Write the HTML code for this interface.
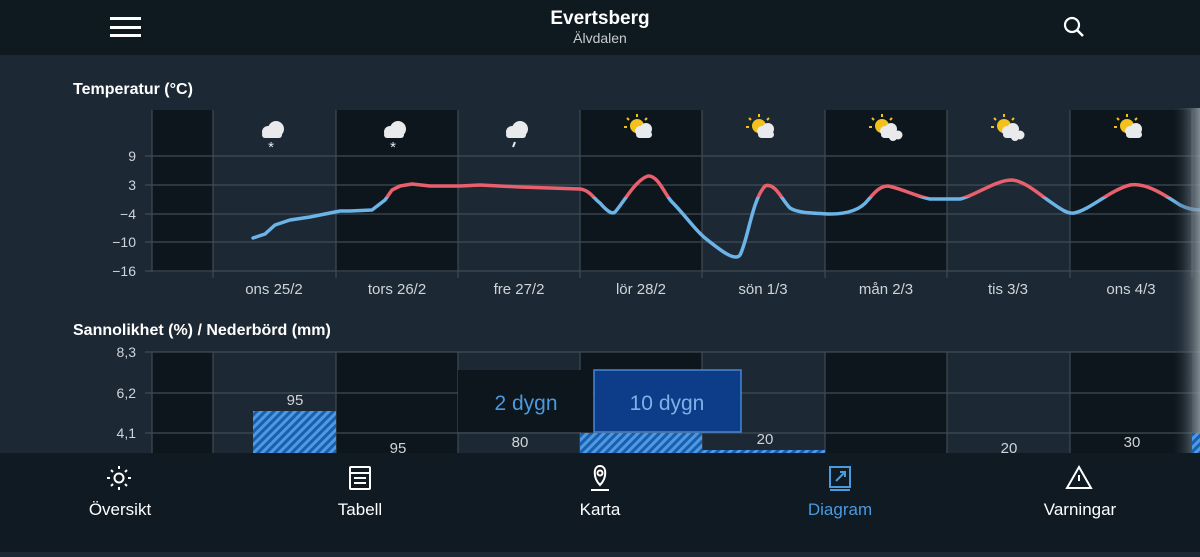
<!DOCTYPE html>
<html><head><meta charset="utf-8"><style>
body{margin:0;width:1200px;height:552px;overflow:hidden;background:#1c2833;font-family:"Liberation Sans",sans-serif;}
</style></head><body>
<svg width="1200" height="552" xmlns="http://www.w3.org/2000/svg" font-family="Liberation Sans, sans-serif">
<defs>
<clipPath id="top"><rect x="0" y="0" width="1200" height="197"/></clipPath>
<clipPath id="bot"><rect x="0" y="197" width="1200" height="200"/></clipPath>
<pattern id="hatch" width="6" height="6" patternUnits="userSpaceOnUse" patternTransform="rotate(45)">
<rect width="6" height="6" fill="#1e5ea8"/><rect width="3" height="6" fill="#4a9ae8"/></pattern>
<linearGradient id="fade" x1="0" x2="1"><stop offset="0" stop-color="#1c2833" stop-opacity="0"/><stop offset="1" stop-color="#9aa3aa" stop-opacity="0.8"/></linearGradient>
</defs>
<rect x="0" y="0" width="1200" height="55" fill="#0f1920"/>
<rect x="110" y="17" width="31" height="3" fill="#fff"/><rect x="110" y="26" width="31" height="3" fill="#fff"/><rect x="110" y="34" width="31" height="3" fill="#fff"/>
<text x="600" y="24" text-anchor="middle" fill="#fff" font-size="19" font-weight="bold">Evertsberg</text>
<text x="600" y="43" text-anchor="middle" fill="#c8ccd0" font-size="14">Älvdalen</text>
<circle cx="1072" cy="25" r="7" fill="none" stroke="#fff" stroke-width="2.2"/><line x1="1077" y1="30" x2="1083" y2="36" stroke="#fff" stroke-width="2.5"/>
<text x="73" y="94" fill="#fff" font-size="16" font-weight="bold">Temperatur (°C)</text>
<g fill="#0d161d">
<rect x="152" y="110" width="61" height="162"/><rect x="336" y="110" width="122" height="162"/><rect x="580" y="110" width="122" height="162"/><rect x="825" y="110" width="122" height="162"/><rect x="1070" y="110" width="122" height="162"/>
<rect x="152" y="352" width="61" height="101"/><rect x="336" y="352" width="122" height="101"/><rect x="580" y="352" width="122" height="101"/><rect x="825" y="352" width="122" height="101"/><rect x="1070" y="352" width="122" height="101"/>
</g>
<g stroke="#3f4b55" stroke-width="1.2">
<line x1="145" y1="156" x2="1200" y2="156"/><line x1="145" y1="185" x2="1200" y2="185"/><line x1="145" y1="214" x2="1200" y2="214"/><line x1="145" y1="242" x2="1200" y2="242"/><line x1="145" y1="271" x2="1200" y2="271"/>
<line x1="145" y1="352" x2="1200" y2="352"/><line x1="145" y1="393" x2="1200" y2="393"/><line x1="145" y1="433" x2="1200" y2="433"/>
<line x1="152" y1="110" x2="152" y2="272"/><line x1="213" y1="110" x2="213" y2="278"/><line x1="336" y1="110" x2="336" y2="278"/><line x1="458" y1="110" x2="458" y2="278"/><line x1="580" y1="110" x2="580" y2="278"/><line x1="702" y1="110" x2="702" y2="278"/><line x1="825" y1="110" x2="825" y2="278"/><line x1="947" y1="110" x2="947" y2="278"/><line x1="1070" y1="110" x2="1070" y2="278"/><line x1="1192" y1="110" x2="1192" y2="278"/>
<line x1="152" y1="352" x2="152" y2="453"/><line x1="213" y1="352" x2="213" y2="453"/><line x1="336" y1="352" x2="336" y2="453"/><line x1="458" y1="352" x2="458" y2="453"/><line x1="580" y1="352" x2="580" y2="453"/><line x1="702" y1="352" x2="702" y2="453"/><line x1="825" y1="352" x2="825" y2="453"/><line x1="947" y1="352" x2="947" y2="453"/><line x1="1070" y1="352" x2="1070" y2="453"/>
</g>
<g fill="#d0d4d8" font-size="14" text-anchor="end">
<text x="136" y="161">9</text><text x="136" y="190">3</text><text x="136" y="219">−4</text><text x="136" y="247">−10</text><text x="136" y="276">−16</text>
<text x="136" y="357">8,3</text><text x="136" y="398">6,2</text><text x="136" y="438">4,1</text>
</g>
<g fill="#d0d4d8" font-size="15" text-anchor="middle">
<text x="274" y="294">ons 25/2</text><text x="397" y="294">tors 26/2</text><text x="519" y="294">fre 27/2</text><text x="641" y="294">lör 28/2</text><text x="763" y="294">sön 1/3</text><text x="886" y="294">mån 2/3</text><text x="1008" y="294">tis 3/3</text><text x="1131" y="294">ons 4/3</text>
</g>
<g fill="#e8eaec">
<g transform="translate(273,130)"><circle cx="-5" cy="2" r="6"/><circle cx="3" cy="-1" r="8"/><rect x="-11" y="2" width="20" height="6" rx="3"/><text x="-2" y="22" font-size="15" text-anchor="middle">*</text></g>
<g transform="translate(395,130)"><circle cx="-5" cy="2" r="6"/><circle cx="3" cy="-1" r="8"/><rect x="-11" y="2" width="20" height="6" rx="3"/><text x="-2" y="22" font-size="15" text-anchor="middle">*</text></g>
<g transform="translate(517,130)"><circle cx="-5" cy="2" r="6"/><circle cx="3" cy="-1" r="8"/><rect x="-11" y="2" width="20" height="6" rx="3"/><line x1="-2" y1="12" x2="-4" y2="17" stroke="#e8eaec" stroke-width="2"/></g>
</g>
<g id="sun">
<g transform="translate(640,128)"><circle cx="-3" cy="-2" r="7" fill="#f2c11a"/><g stroke="#f2c11a" stroke-width="2"><line x1="-3" y1="-14" x2="-3" y2="-11"/><line x1="-13" y1="-10" x2="-11" y2="-8"/><line x1="7" y1="-10" x2="5" y2="-8"/><line x1="-16" y1="-1" x2="-13" y2="-1"/></g><g fill="#e8eaec"><circle cx="0" cy="3" r="5"/><circle cx="6" cy="1" r="6"/><rect x="-4" y="3" width="16" height="7" rx="3.5"/></g></g>
</g>
<use href="#sun" x="122"/><use href="#sun" x="245"/><use href="#sun" x="367"/><use href="#sun" x="490"/>
<g fill="#e8eaec"><circle cx="893" cy="137" r="4"/><circle cx="898" cy="135" r="4.5"/><circle cx="1015" cy="137" r="4"/><circle cx="1020" cy="135" r="4.5"/></g>
<path id="t" fill="none" stroke-width="3.5" stroke-linecap="round" stroke-linejoin="round" d="M253,238 L265,234 L275,225 L290,220 L310,217 L340,211 L350,211 L372,210 L385,200 L392,190 L400,186 L412,184 L430,186 L460,186 L480,185 L520,187 L580,189 C590,190 595,200 600,203 C606,210 612,215 615,212 C622,205 635,180 648,176 C658,175 665,195 672,202 C685,215 695,230 705,238 C720,250 735,262 740,255 C748,240 752,200 765,186 C775,182 782,200 790,208 C798,213 810,213 830,214 C850,214 862,208 868,200 C875,192 880,186 888,186 C900,188 915,196 930,199 L960,199 C975,196 995,180 1012,180 C1025,181 1040,195 1052,203 C1062,210 1068,214 1074,213 C1090,210 1110,190 1130,185 C1145,182 1165,195 1180,205 C1188,209 1195,210 1200,210"/>
<use href="#t" stroke="#e8606e" clip-path="url(#top)"/>
<use href="#t" stroke="#6cb4e8" clip-path="url(#bot)"/>
<rect x="1172" y="108" width="28" height="345" fill="url(#fade)"/>
<text x="73" y="335" fill="#fff" font-size="16" font-weight="bold">Sannolikhet (%) / Nederbörd (mm)</text>
<rect x="253" y="411" width="83" height="42" fill="url(#hatch)"/>
<rect x="580" y="433" width="122" height="20" fill="url(#hatch)"/>
<rect x="702" y="450" width="123" height="3" fill="url(#hatch)"/>
<rect x="1192" y="433" width="8" height="20" fill="url(#hatch)"/>
<rect x="458" y="370" width="135" height="62" fill="#0d161d"/>
<rect x="594" y="370" width="147" height="62" fill="#0d3c88" stroke="#4a86d0" stroke-width="1.5"/>
<text x="526" y="410" text-anchor="middle" fill="#4a9ae0" font-size="21">2 dygn</text>
<text x="667" y="410" text-anchor="middle" fill="#7fb0e8" font-size="21">10 dygn</text>
<g fill="#d0d4d8" font-size="15" text-anchor="middle">
<text x="295" y="405">95</text><text x="398" y="453">95</text><text x="520" y="447">80</text><text x="765" y="444">20</text><text x="1009" y="453">20</text><text x="1132" y="447">30</text>
</g>
<rect x="0" y="453" width="1200" height="99" fill="#101a22"/>
<g fill="none" stroke="#fff" stroke-width="2">
<circle cx="119" cy="478" r="4.5"/>
<g stroke-width="2"><line x1="119" y1="466" x2="119" y2="469"/><line x1="119" y1="487" x2="119" y2="490"/><line x1="107" y1="478" x2="110" y2="478"/><line x1="128" y1="478" x2="131" y2="478"/><line x1="111" y1="470" x2="113" y2="472"/><line x1="125" y1="484" x2="127" y2="486"/><line x1="127" y1="470" x2="125" y2="472"/><line x1="113" y1="484" x2="111" y2="486"/></g>
<rect x="350" y="467" width="20" height="22" rx="1"/><line x1="350" y1="473" x2="370" y2="473"/><line x1="354" y1="478" x2="366" y2="478"/><line x1="354" y1="483" x2="366" y2="483"/>
<path d="M600,485 C593,478 593,466 600,466 C607,466 607,478 600,485 Z"/><circle cx="600" cy="473" r="2.5"/><path d="M591,490 L609,490"/>
<path d="M1079,467 L1091,488 L1067,488 Z"/><line x1="1079" y1="475" x2="1079" y2="481"/>
</g>
<g fill="none" stroke="#4a9ae0" stroke-width="2"><rect x="830" y="467" width="20" height="20"/><line x1="830" y1="490" x2="850" y2="490"/><path d="M836,481 L845,472 M840,472 L845,472 L845,477"/></g>
<g font-size="17" text-anchor="middle" fill="#fff">
<text x="120" y="515">Översikt</text><text x="360" y="515">Tabell</text><text x="600" y="515">Karta</text><text x="840" y="515" fill="#4a9ae0">Diagram</text><text x="1080" y="515">Varningar</text>
</g>
</svg>
</body></html>
